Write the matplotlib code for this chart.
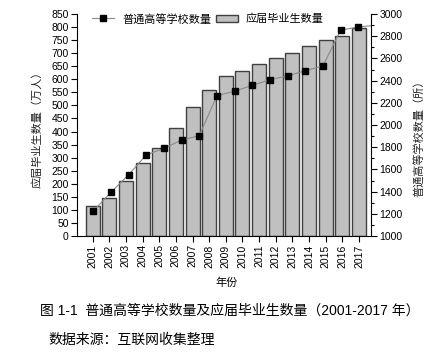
import matplotlib
matplotlib.use('Agg')
import matplotlib.pyplot as plt
from matplotlib.ticker import MultipleLocator

plt.rcParams['font.family'] = ['Liberation Sans', 'Noto Sans CJK SC']

years = [str(y) for y in range(2001, 2018)]
# 应届毕业生数量（万人）
graduates = [114, 145, 212, 280, 338, 413, 495, 559, 611, 631, 660, 680, 699, 727, 749, 765, 795]
# 普通高等学校数量（所）
schools = [1225, 1393, 1552, 1731, 1790, 1865, 1904, 2264, 2305, 2357, 2408, 2443, 2489, 2532, 2855, 2883, 2900]

fig = plt.figure(figsize=(4.46, 3.56), dpi=100)
rect = [0.1726, 0.337, 0.6592, 0.6236]

# bars
ax = fig.add_axes(rect)
xs = range(len(years))
ax.bar(xs, graduates, width=0.84, color='#c0c0c0', edgecolor='#404040',
       linewidth=1.0, label='应届毕业生数量')
ax.set_xlim(-0.94, 16.72)
ax.set_ylim(0, 850)
ax.yaxis.set_major_locator(MultipleLocator(50))
ax.set_xticks(list(xs))
ax.set_xticklabels(years, rotation=90)
ax.spines['top'].set_visible(False)
ax.spines['right'].set_visible(False)
ax.tick_params(direction='out', length=4, width=0.8, labelsize=7.5, pad=2)
ax.set_ylabel('应届毕业生数量（万人）', fontsize=8, color='#222222')
ax.yaxis.set_label_coords(-0.119, 0.49)
ax.set_xlabel('年份', fontsize=8)
ax.xaxis.set_label_coords(0.51, -0.185)

# line, own x scale on top of the bars
ax2 = fig.add_axes(rect)
ax2.patch.set_visible(False)
ax2.plot(range(len(schools)), schools, color='#8a8a8a', lw=0.8, marker='s',
         ms=3.8, mfc='black', mec='black', label='普通高等学校数量')
ax2.set_xlim(-0.92, 15.72)
ax2.set_ylim(1000, 3000)
ax2.xaxis.set_visible(False)
ax2.yaxis.tick_right()
ax2.yaxis.set_major_locator(MultipleLocator(200))
ax2.yaxis.set_minor_locator(MultipleLocator(100))
for s in ['left', 'top', 'bottom']:
    ax2.spines[s].set_visible(False)
ax2.tick_params(which='major', direction='out', length=4, width=0.8, labelsize=7.5, pad=2)
ax2.tick_params(which='minor', direction='out', length=2, width=0.8)
ax2.yaxis.set_label_position('right')
ax2.set_ylabel('普通高等学校数量（所）', fontsize=8, color='#222222')
ax2.yaxis.set_label_coords(1.143, 0.45)

h1, l1 = ax2.get_legend_handles_labels()
h2, l2 = ax.get_legend_handles_labels()
fig.legend(h1 + h2, l1 + l2, ncol=2, loc='center', bbox_to_anchor=(0.466, 0.947),
           frameon=False, fontsize=8, handlelength=2, handletextpad=0.7,
           columnspacing=0.4)

fig.text(40 / 446, 1 - 311 / 356, '图 1-1  普通高等学校数量及应届毕业生数量（2001-2017 年）',
         fontsize=10, ha='left', va='center')
fig.text(48 / 446, 1 - 340 / 356, '数据来源：互联网收集整理',
         fontsize=10, ha='left', va='center')

fig.savefig('out.png', dpi=100)
